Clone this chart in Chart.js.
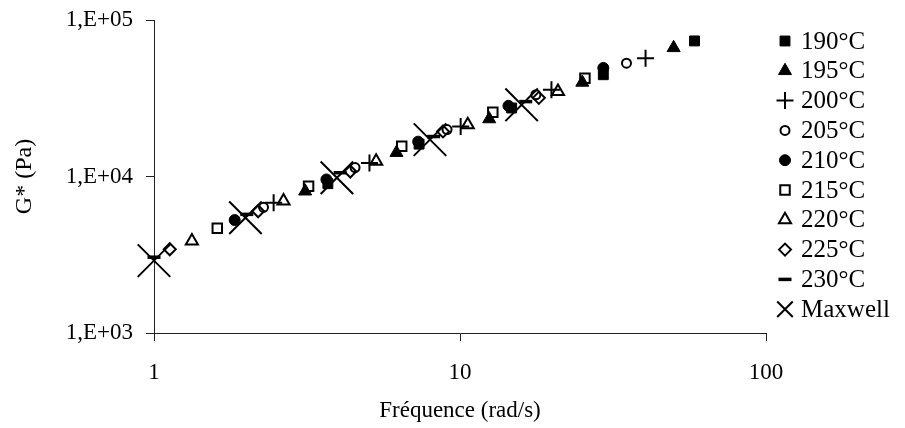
<!DOCTYPE html>
<html>
<head>
<meta charset="utf-8">
<script src="https://cdn.jsdelivr.net/npm/chart.js@4/dist/chart.umd.min.js"></script>
<style>
  html, body { margin: 0; padding: 0; background: #fff; }
  canvas { display: block; }
</style>
</head>
<body>
<canvas id="gChart" width="905" height="428"></canvas>
<script>
// Series names (legend order)
const seriesLabels = ['190°C', '195°C', '200°C', '205°C', '210°C', '215°C', '220°C', '225°C', '230°C', 'Maxwell'];

// Frequency (rad/s) and G* (Pa)
const freq190 = [3.7, 7.35, 14.75, 29.4, 58.4];
const g190    = [9000, 16100, 27400, 44700, 73500];
const freq195 = [3.12, 6.2, 12.46, 25.1, 49.9];
const g195    = [8050, 14200, 23300, 39900, 66400];
const freq200 = [2.46, 5.06, 10.05, 19.9, 40.4];
const g200    = [6800, 12200, 20900, 35800, 57000];
const freq205 = [2.28, 4.54, 9.07, 17.7, 35];
const g205    = [6350, 11400, 19950, 33300, 53000];
const freq210 = [1.835, 3.66, 7.3, 14.4, 29.4];
const g210    = [5270, 9570, 16700, 28300, 49400];
const freq215 = [1.61, 3.2, 6.45, 12.8, 25.6];
const g215    = [4670, 8670, 15600, 25700, 42500];
const freq220 = [1.33, 2.65, 5.32, 10.6, 20.9];
const g220    = [3870, 6970, 12500, 21400, 34900];
const freq225 = [1.126, 2.19, 4.38, 8.8, 18.1];
const g225    = [3430, 6000, 10760, 19400, 31800];
const freq230 = [1.0, 2.01, 4.06, 8.2, 16.4];
const g230    = [3050, 5730, 10570, 18000, 30100];
const freqMaxwell = [1.0, 1.99, 3.96, 7.98, 15.9];
const gMaxwell    = [2900, 5450, 9820, 17200, 28700];

// Axis ticks
const xTicks = [1, 10, 100];
const yTicks = [1e3, 1e4, 1e5];

const allFreq = [freq190, freq195, freq200, freq205, freq210, freq215, freq220, freq225, freq230, freqMaxwell];
const allG = [g190, g195, g200, g205, g210, g215, g220, g225, g230, gMaxwell];

// Marker look for each series: [pointStyle, radius, borderWidth, filled, legendRadius]
const markers = [
    ['rect', 7, 1, true, 7],
    ['triangle', 7.5, 1, true, 7.5],
    ['cross', 8.5, 2, false, 8.5],
    ['circle', 4.5, 2, false, 4.5],
    ['circle', 5.5, 1, true, 5.5],
    ['rect', 6.7, 2, false, 6.7],
    ['triangle', 7, 2, false, 7],
    ['rectRot', 6, 2, false, 6],
    ['line', 6.5, 3.5, false, 6.5],
    ['crossRot', 23, 2, false, 11],
];

const datasets = seriesLabels.map((label, i) => {
    const [style, radius, bw, filled, legendRadius] = markers[i];
    return {
        label,
        data: allFreq[i].map((f, j) => ({ x: f, y: allG[i][j] })),
        pointStyle: style,
        pointRadius: radius,
        pointHoverRadius: radius,
        pointBorderWidth: bw,
        borderColor: '#000',
        backgroundColor: filled ? '#000' : 'rgba(0,0,0,0)',
        showLine: false,
        clip: false,
        order: seriesLabels.length - i, // later series on top
        legendRadius,
    };
});

// Legend drawn at the right, one row per series
const sideLegend = {
    id: 'sideLegend',
    afterDraw(chart) {
        const ctx = chart.ctx;
        ctx.save();
        chart.data.datasets.forEach((ds, i) => {
            const y = 41 + i * 29.8;
            ctx.strokeStyle = ds.borderColor;
            ctx.fillStyle = ds.backgroundColor;
            ctx.lineWidth = ds.pointBorderWidth;
            Chart.helpers.drawPoint(ctx, {
                pointStyle: ds.pointStyle,
                radius: ds.legendRadius,
                rotation: 0,
                borderWidth: ds.pointBorderWidth,
            }, 785, y);
            ctx.fillStyle = '#000';
            ctx.font = '25px "Liberation Serif"';
            ctx.textBaseline = 'middle';
            ctx.textAlign = 'left';
            ctx.fillText(ds.label, 801, y + 1);
        });
        ctx.restore();
    },
};

const isDecade = v => Math.abs(Math.log10(v) - Math.round(Math.log10(v))) < 1e-9;
const serif = { family: '"Liberation Serif", "Times New Roman", serif' };

new Chart(document.getElementById('gChart').getContext('2d'), {
    type: 'scatter',
    data: { datasets },
    options: {
        responsive: false,
        animation: false,
        layout: { autoPadding: false, padding: { top: 20, right: 139, bottom: 0, left: 0 } },
        plugins: {
            legend: { display: false },
            tooltip: { enabled: false },
        },
        scales: {
            x: {
                type: 'logarithmic',
                min: xTicks[0],
                max: xTicks[xTicks.length - 1],
                afterBuildTicks: scale => { scale.ticks = xTicks.map(v => ({ value: v })); },
                afterFit: scale => { scale.height = 95; },
                ticks: {
                    autoSkip: false,
                    maxRotation: 0,
                    padding: 18,
                    color: '#000',
                    font: { ...serif, size: 23 },
                    callback: v => isDecade(v) ? String(v) : '',
                },
                grid: { drawOnChartArea: false, drawTicks: true, tickLength: 8, color: '#222' },
                border: { display: true, color: '#222', width: 1 },
                title: {
                    display: true,
                    text: 'Fréquence (rad/s)',
                    color: '#000',
                    font: { ...serif, size: 23 },
                    padding: { top: 0, bottom: 3 },
                },
            },
            y: {
                type: 'logarithmic',
                min: yTicks[0],
                max: yTicks[yTicks.length - 1],
                afterBuildTicks: scale => { scale.ticks = yTicks.map(v => ({ value: v })); },
                afterFit: scale => {
                    scale.width = 154;
                    scale.paddingTop = 0;
                    scale.paddingBottom = 0;
                },
                ticks: {
                    autoSkip: false,
                    padding: 13,
                    color: '#000',
                    font: { ...serif, size: 23 },
                    callback: v => isDecade(v) ? '1,E+0' + Math.round(Math.log10(v)) : '',
                },
                grid: { drawOnChartArea: false, drawTicks: true, tickLength: 8, color: '#222' },
                border: { display: true, color: '#222', width: 1 },
                title: {
                    display: true,
                    text: 'G* (Pa)',
                    color: '#000',
                    font: { ...serif, size: 24 },
                    padding: { top: 10, bottom: 0 },
                },
            },
        },
    },
    plugins: [sideLegend],
});
</script>
</body>
</html>
